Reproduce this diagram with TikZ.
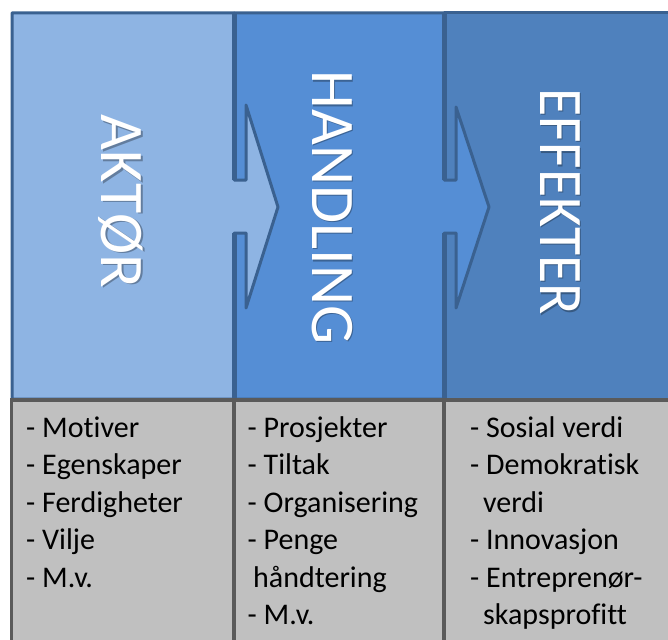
\documentclass[tikz,border=0pt]{standalone}
\usepackage{fontspec}
\setmainfont[Ligatures=NoCommon]{Carlito}
\definecolor{cA}{HTML}{8EB4E3}
\definecolor{cB}{HTML}{558ED5}
\definecolor{cC}{HTML}{4F81BD}
\definecolor{bordblue}{HTML}{3A6190}
\definecolor{boxgray}{HTML}{C0C0C0}
\definecolor{boxline}{HTML}{5A5A5A}
\begin{document}
\begin{tikzpicture}[x=1pt,y=-1pt,
  panel/.style={draw=bordblue, line width=3pt, line join=round},
  divider/.style={draw=bordblue, line width=5pt},
  graybox/.style={fill=boxgray, draw=boxline, line width=3.5pt},
  titlefont/.style={font=\fontsize{62}{62}\selectfont, inner sep=0pt, rotate=-90},
  titletext/.style={titlefont, text=white},
  titleshadow/.style={titlefont, text=black, text opacity=0.3},
  item/.style={anchor=base west, inner sep=0pt, text=black, font=\fontsize{30}{30}\selectfont}]
\useasboundingbox (0,0) rectangle (668,639);
\clip (0,0) rectangle (668,639);
\fill[white] (0,0) rectangle (668,639);
% column 3 panel
\draw[panel, fill=cC] (444,13) -- (720,13) -- (720,399) -- (444,399) -- cycle;
% column 2 panel with arrow
\draw[panel, fill=cB] (234,13) -- (444,13) -- (444,180) -- (456,180) -- (456,107)
  -- (489,207) -- (456,308) -- (456,233) -- (444,233) -- (444,399) -- (234,399) -- cycle;
% column 1 panel with arrow
\draw[panel, fill=cA] (12,13) -- (234,13) -- (234,180) -- (246,180) -- (246,105)
  -- (278,207) -- (246,308) -- (246,233) -- (234,233) -- (234,399) -- (12,399) -- cycle;
% thicker dividers
\draw[divider] (234,13) -- (234,180);
\draw[divider] (234,233) -- (234,399);
\draw[divider] (444,13) -- (444,180);
\draw[divider] (444,233) -- (444,399);
% titles
\node[titleshadow] (s1) at (122.5,203) {AKTØR};
\node[titletext] (t1) at (121,201.5) {AKTØR};
\node[titleshadow] (s2) at (333.5,209) {HANDLING};
\node[titletext] (t2) at (332,207.5) {HANDLING};
\node[titleshadow] (s3) at (561.5,203) {\scalebox{0.93}[1]{EFFEKTER}};
\node[titletext] (t3) at (560,201.5) {\scalebox{0.93}[1]{EFFEKTER}};
% gray boxes
\draw[graybox] (11.5,400) rectangle (234,720);
\draw[graybox] (234,400) rectangle (444,720);
\draw[graybox] (444,400) rectangle (720,720);
% column 1 items
\node[item] (a1) at (26,437) {- Motiver};
\node[item] (a2) at (26,474.5) {- Egenskaper};
\node[item] (a3) at (26,512) {- Ferdigheter};
\node[item] (a4) at (26,549.5) {- Vilje};
\node[item] (a5) at (26,587) {- M.v.};
% column 2 items
\node[item] (b1) at (247.5,437) {- Prosjekter};
\node[item] (b2) at (247.5,474.5) {- Tiltak};
\node[item] (b3) at (247.5,512) {- Organisering};
\node[item] (b4) at (247.5,549.5) {- Penge};
\node[item] (b5) at (253,587) {håndtering};
\node[item] (b6) at (247.5,624.5) {- M.v.};
% column 3 items
\node[item] (c1) at (470,437) {- Sosial verdi};
\node[item] (c2) at (470,474.5) {- Demokratisk};
\node[item] (c3) at (483,512) {verdi};
\node[item] (c4) at (470,549.5) {- Innovasjon};
\node[item] (c5) at (470,587) {- Entreprenør-};
\node[item] (c6) at (483,624.5) {skapsprofitt};
\end{tikzpicture}
\end{document}
